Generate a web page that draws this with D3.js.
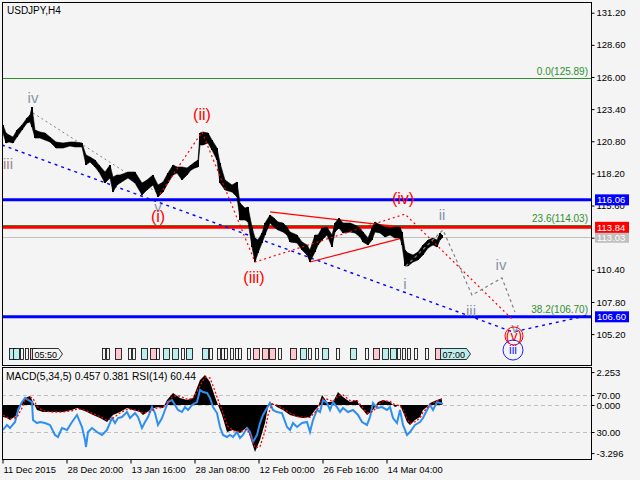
<html>
<head>
<meta charset="utf-8">
<style>
  body { margin: 0; background: #f4f4f4; font-family: "Liberation Sans", Arial, sans-serif; }
  svg { display: block; }
</style>
</head>
<body>
<svg id="chart" width="640" height="480"></svg>
<script src="https://cdn.jsdelivr.net/npm/d3@7/dist/d3.min.js"></script>
<script>
// ---- price (H4 bars, sampled), bar index from 11 Dec 2015 ----
var priceBars = [1,4,7,11,15,20,25,28,30,33,38,43,48,54,61,68,73,80,84,88,93,97,103,108,111,115,118,126,133,140,145,151,156,161,166,171,175,180,185,189,193,196,198,201,206,210,215,218,223,230,235,238,243,246,250,253,256,260,263,268,272,276,281,285,288,295,300,305,308,313,316,320,325,330,333,337,341,348,353,358,361,366,370,373,378,383,388,393,398,400,403,406,411,416,421,426,431,435,438,440];
var priceHigh = [122.12,121.47,121.31,121.14,121.71,122.12,122.68,122.92,123.57,121.71,121.55,121.47,121.14,120.74,120.66,120.74,120.74,120.66,119.69,119.53,119.28,118.88,118.31,118.88,117.91,118.07,118.07,118.31,118.31,117.42,117.67,118.07,117.26,117.50,118.23,118.88,118.72,118.72,118.64,118.88,119.12,119.28,121.47,121.55,121.47,120.90,120.25,119.04,117.67,117.26,117.50,115.80,115.40,115.48,113.86,112.97,112.81,113.38,114.19,114.83,114.59,114.27,114.19,113.86,113.46,113.22,112.65,112.41,112.00,113.22,113.22,113.78,113.86,113.22,114.19,114.59,114.19,114.19,114.02,113.78,113.46,112.97,113.78,114.27,114.02,113.86,113.78,113.86,113.86,113.46,112.00,111.76,111.60,111.84,112.41,112.81,112.97,112.81,113.38,113.22];
var priceLow = [121.47,120.66,120.74,120.66,121.14,121.71,122.28,122.36,121.95,121.06,121.06,120.90,120.74,120.25,120.25,120.42,120.34,120.34,118.88,119.12,118.72,118.31,117.42,117.83,116.69,117.26,117.42,117.83,117.42,116.45,116.86,117.26,116.29,116.69,117.42,118.07,118.23,117.67,118.07,118.47,118.64,118.72,120.50,120.50,120.66,120.09,119.28,117.42,116.86,116.69,116.29,114.43,114.43,114.27,112.25,111.03,111.76,112.57,113.22,114.19,113.86,113.62,113.46,113.22,112.65,112.57,112.00,111.60,111.03,111.84,112.41,112.81,113.22,112.25,113.46,113.78,113.38,113.46,113.38,113.06,112.65,112.41,112.81,113.46,113.38,113.06,113.22,112.97,112.97,112.41,110.71,110.71,111.03,111.19,111.60,112.16,112.41,112.25,112.81,112.97];
var lastPrice = 113.03;

// ---- axes ----
var priceTicks = [131.20,128.60,126.00,123.40,120.80,118.20,115.60,113.00,110.40,107.80,105.20];
var timeTickBars = [0,64,128,192,256,320,384];
var timeTickLabels = ["11 Dec 2015","28 Dec 20:00","13 Jan 16:00","28 Jan 08:00","12 Feb 00:00","26 Feb 16:00","14 Mar 04:00"];

// ---- horizontal levels ----
var fibLevels = [125.89, 114.03, 106.70];
var fibLabels = ["0.0(125.89)", "23.6(114.03)", "38.2(106.70)"];
var supportLevels = [116.06, 106.60];
var resistLevel = 113.84;

// ---- wave lines (bar index, price) ----
var minorLineBars = [31, 156];
var minorLinePrices = [123.09, 116.61];
var waveBars = [158, 200, 253, 403, 511];
var wavePrices = [116.53, 121.55, 111.03, 114.91, 106.34];
var channelBars = [0, 511, 588];
var channelPrices = [120.50, 105.37, 106.75];
var triUpperBars = [268, 400];
var triUpperPrices = [115.08, 113.86];
var triLowerBars = [308, 400];
var triLowerPrices = [111.03, 112.97];
var projBars = [404, 441, 470, 500, 513];
var projPrices = [110.71, 113.62, 108.36, 109.74, 106.98];

// ---- wave labels ----
var labelText = ["iv","iii","v","(i)","(ii)","(iii)","(iv)","ii","i","iii","iv","v","(v)","iii"];
var labelBars = [31, 6, 156, 156, 200, 252, 401, 440, 403, 469, 499, 513, 512, 511];
var labelPrices = [124.38, 119.04, 115.56, 114.75, 122.93, 109.74, 116.13, 114.91, 109.33, 107.07, 110.87, 105.77, 105.05, 103.91];
var labelDegree = ["minute","minuette","minute","minor","minor","minor","minor","minute","minute","minute","minute","minute","minorC","intermediate"];

// ---- calendar events ----
var eventBars = [7,11,18,23,28,100,104,113,126,130,139,148,154,161,170,179,184,200,207,215,219,222,228,233,236,245,251,260,267,276,288,298,306,313,320,334,348,363,371,380,388,395,400,405,412,423,433];
var eventKinds = ["c","c","n","n","p","n","n","p","n","n","c","p","n","c","c","n","c","c","n","n","n","n","n","n","n","n","p","p","p","n","p","c","n","n","c","n","c","n","p","c","c","n","n","n","n","n","p"];
var flagBars = [30, 438];
var flagText = ["05:50", "07:00"];
var flagKinds = ["n", "c"];

// ---- MACD(5,34,5) + RSI(14) ----
var macdBars = [1,5,8,15,20,23,28,31,35,41,51,61,70,75,80,85,91,98,105,111,118,125,131,138,141,148,155,161,165,171,178,185,191,198,203,208,213,216,220,225,231,238,245,250,253,258,263,266,270,275,281,288,295,301,308,313,316,320,325,331,336,341,348,355,358,361,365,371,376,381,388,393,398,401,405,408,413,418,421,425,428,435,440];
var macdValues = [-0.82,-0.90,-1.03,-0.68,0.21,0.48,0.62,0.21,-0.34,-0.48,-0.48,-0.48,-0.34,-0.21,-0.34,-0.48,-0.68,-0.89,-1.16,-0.68,-0.48,-0.21,-0.34,-0.48,-0.68,-0.34,-0.14,-0.21,0.34,0.82,0.48,0.34,0.48,1.71,2.05,1.58,0.55,0.00,-0.68,-1.85,-1.71,-1.92,-1.51,-2.60,-3.22,-2.40,-1.23,-0.14,0.14,-0.14,-0.34,-0.68,-0.82,-0.89,-0.82,-0.34,-0.14,0.68,0.21,0.21,0.89,0.55,0.21,0.34,-0.14,-0.34,-0.68,-0.34,0.21,0.34,0.21,-0.14,0.00,-0.48,-1.16,-1.37,-1.03,-0.82,-0.34,-0.14,0.14,0.34,0.457];
var signalValues = [-0.70,-0.85,-0.95,-0.85,-0.20,0.30,0.55,0.45,-0.10,-0.40,-0.48,-0.48,-0.40,-0.28,-0.30,-0.42,-0.60,-0.80,-1.05,-0.90,-0.55,-0.30,-0.30,-0.42,-0.58,-0.45,-0.20,-0.18,0.15,0.62,0.60,0.40,0.42,1.30,1.90,1.85,0.95,0.35,-0.35,-1.40,-1.75,-1.85,-1.65,-2.30,-2.95,-2.85,-1.80,-0.70,0.05,0.00,-0.25,-0.55,-0.78,-0.86,-0.85,-0.50,-0.25,0.40,0.40,0.22,0.65,0.68,0.30,0.30,0.05,-0.22,-0.55,-0.45,0.00,0.28,0.25,0.00,-0.05,-0.35,-0.95,-1.28,-1.15,-0.90,-0.50,-0.22,0.02,0.28,0.381];
var rsiBars = [1,5,8,13,16,20,23,26,30,31,35,38,43,48,53,56,60,65,70,75,80,83,84,86,90,95,100,105,110,113,116,120,125,128,133,136,140,143,146,150,153,156,160,163,166,170,173,176,180,183,186,190,195,198,201,205,208,211,215,218,221,225,228,231,235,238,241,245,248,251,255,258,261,265,268,271,275,280,285,288,291,295,300,305,308,311,315,318,321,325,328,331,335,338,341,346,351,356,360,365,368,371,375,380,385,388,391,395,398,401,405,408,413,418,421,425,428,431,435,438,441];
var rsiValues = [32.2,37.6,34.3,40.8,53.8,62.4,66.8,64.6,62.4,43.0,39.7,40.8,39.7,37.6,26.8,24.6,34.3,32.2,40.8,48.4,35.4,21.4,13.8,30.0,34.3,30.0,26.8,32.2,45.1,39.7,45.1,46.2,51.6,45.1,50.5,46.2,34.3,40.8,46.2,57.0,50.5,37.6,45.1,53.8,62.4,64.6,59.2,53.8,51.6,57.0,53.8,59.2,62.4,75.4,73.2,72.2,66.8,57.0,50.5,35.4,26.8,24.6,26.8,24.6,30.0,23.5,26.8,34.3,30.0,19.2,26.8,39.7,48.4,55.9,61.4,53.8,51.6,50.5,35.4,32.2,39.7,35.4,39.7,40.8,30.0,43.0,53.8,51.6,64.6,61.4,53.8,62.4,57.0,51.6,55.9,51.6,53.8,48.4,40.8,37.6,46.2,61.4,55.9,57.0,53.8,57.0,45.1,39.7,53.8,37.6,26.8,30.0,37.6,40.8,45.1,53.8,59.2,53.8,62.4,61.4,60.44];

var svg = d3.select("#chart");
var W = 591, mainTop = 2, mainBottom = 365, subTop = 367, subBottom = 459;
var axisFont = "Liberation Sans, Arial, sans-serif";

var x = d3.scaleLinear().domain([0, 589]).range([2, W]);
var y = d3.scaleLinear().domain([102.70, 132.066]).range([mainBottom, mainTop]);
var macdY = d3.scaleLinear().domain([-3.70, 2.60]).range([subBottom, subTop]);
var rsiY = d3.scaleLinear().domain([0, 100]).range([459.75, 367.25]);

// MT4 prints a plain hyphen for negatives
function fmt(spec) {
  var f = d3.format(spec);
  return function(d) { return f(d).replace("\u2212", "-"); };
}

svg.append("rect").attr("width", 640).attr("height", 480).attr("fill", "#f4f4f4");

var defs = svg.append("defs");
defs.append("clipPath").attr("id", "clipMain").append("rect")
  .attr("x", 2).attr("y", mainTop).attr("width", W - 2).attr("height", mainBottom - mainTop);
defs.append("clipPath").attr("id", "clipSub").append("rect")
  .attr("x", 2).attr("y", subTop).attr("width", W - 2).attr("height", subBottom - subTop);

var main = svg.append("g").attr("clip-path", "url(#clipMain)");

function pts(bars, prices) {
  return bars.map(function(b, i) { return [x(b), y(prices[i])]; });
}
var line = d3.line();

// horizontal levels
fibLevels.forEach(function(v) {
  main.append("line").attr("x1", 2).attr("x2", W)
    .attr("y1", Math.round(y(v)) + 0.5).attr("y2", Math.round(y(v)) + 0.5)
    .attr("stroke", "#2f8f2f").attr("stroke-width", 1);
});
main.append("line").attr("x1", 2).attr("x2", W)
  .attr("y1", Math.round(y(lastPrice)) + 0.5).attr("y2", Math.round(y(lastPrice)) + 0.5)
  .attr("stroke", "#c0c0c0").attr("stroke-width", 1);
supportLevels.forEach(function(v) {
  main.append("line").attr("x1", 2).attr("x2", W)
    .attr("y1", y(v)).attr("y2", y(v))
    .attr("stroke", "#0000ff").attr("stroke-width", 3);
});
main.append("line").attr("x1", 2).attr("x2", W)
  .attr("y1", y(resistLevel)).attr("y2", y(resistLevel))
  .attr("stroke", "#ff0000").attr("stroke-width", 3);

fibLevels.forEach(function(v, i) {
  main.append("text").attr("x", W - 3).attr("y", y(v) - 3)
    .attr("text-anchor", "end").attr("font-size", 10).attr("fill", "#2f8f2f")
    .text(fibLabels[i]);
});

// wave lines
main.append("path").attr("d", line(pts(channelBars, channelPrices)))
  .attr("fill", "none").attr("stroke", "#0000ff").attr("stroke-width", 1.4).attr("stroke-dasharray", "3,4");
main.append("path").attr("d", line(pts(minorLineBars, minorLinePrices)))
  .attr("fill", "none").attr("stroke", "#808080").attr("stroke-width", 1).attr("stroke-dasharray", "2,3");
main.append("path").attr("d", line(pts(triUpperBars, triUpperPrices)))
  .attr("fill", "none").attr("stroke", "#ff0000").attr("stroke-width", 1.2);
main.append("path").attr("d", line(pts(triLowerBars, triLowerPrices)))
  .attr("fill", "none").attr("stroke", "#ff0000").attr("stroke-width", 1.2);

// price bars
var priceData = priceBars.map(function(b, i) { return {b: b, high: priceHigh[i], low: priceLow[i]}; });
var area = d3.area()
  .x(function(d) { return x(d.b); })
  .y0(function(d) { return y(d.low); })
  .y1(function(d) { return y(d.high); });
main.append("path").datum(priceData).attr("d", area)
  .attr("fill", "#000").attr("stroke", "#000").attr("stroke-width", 0.6);
main.append("g").selectAll("line").data(priceData).join("line")
  .attr("x1", function(d) { return x(d.b); }).attr("x2", function(d) { return x(d.b); })
  .attr("y1", function(d) { return y(d.high); }).attr("y2", function(d) { return y(d.low); })
  .attr("stroke", "#000").attr("stroke-width", 2);

main.append("path").attr("d", line(pts(waveBars, wavePrices)))
  .attr("fill", "none").attr("stroke", "#ff0000").attr("stroke-width", 1.2).attr("stroke-dasharray", "2,3");
main.append("path").attr("d", line(pts(projBars, projPrices)))
  .attr("fill", "none").attr("stroke", "#808080").attr("stroke-width", 1.2).attr("stroke-dasharray", "3,3");

// wave labels
var degreeColor = {minute: "#8794a8", minuette: "#a08888", minor: "#ff0000", minorC: "#ff0000", intermediate: "#2020ff"};
var degreeSize = {minute: 15, minuette: 15, minor: 16, minorC: 14, intermediate: 12};
labelText.forEach(function(t, i) {
  var deg = labelDegree[i];
  var cx = x(labelBars[i]), cy = y(labelPrices[i]);
  if (deg == "minorC" || deg == "intermediate") {
    main.append("circle").attr("cx", cx).attr("cy", cy).attr("r", deg == "minorC" ? 9 : 10)
      .attr("fill", "none").attr("stroke", degreeColor[deg]).attr("stroke-width", 1);
  }
  main.append("text").attr("x", cx).attr("y", cy)
    .attr("text-anchor", "middle").attr("dominant-baseline", "central")
    .attr("font-size", degreeSize[deg]).attr("fill", degreeColor[deg])
    .text(t);
});

// calendar events row
var eventFill = {c: "#bdeeee", p: "#ffc6d0", n: "#f4f4f4"};
var ev = main.append("g");
eventBars.forEach(function(b, i) {
  var w = eventKinds[i] == "n" ? 3 : 6;
  ev.append("rect").attr("x", Math.round(x(b)) + 0.5).attr("y", 348.5)
    .attr("width", w).attr("height", 11)
    .attr("fill", eventFill[eventKinds[i]]).attr("stroke", "#000").attr("stroke-width", 0.8);
});
flagBars.forEach(function(b, i) {
  var x0 = Math.round(x(b)) + 0.5;
  ev.append("path")
    .attr("d", "M" + x0 + ",348.5 h26 l4,5.5 l-4,5.5 h-26 z")
    .attr("fill", eventFill[flagKinds[i]]).attr("stroke", "#000").attr("stroke-width", 0.8);
  ev.append("text").attr("x", x0 + 2).attr("y", 357.5).attr("font-size", 9).attr("fill", "#000")
    .text(flagText[i]);
});

// frames
svg.append("rect").attr("x", 2.5).attr("y", 2.5).attr("width", W - 2).attr("height", mainBottom - mainTop)
  .attr("fill", "none").attr("stroke", "#000");
svg.append("text").attr("x", 7).attr("y", 14).attr("font-size", 10).attr("fill", "#000").text("USDJPY,H4");

// price axis
var pAxis = svg.append("g").attr("transform", "translate(" + (W + 0.5) + ",0)")
  .call(d3.axisRight(y).tickValues(priceTicks).tickSize(3).tickPadding(2).tickFormat(fmt(".2f")));
pAxis.select(".domain").remove();
pAxis.attr("font-family", axisFont).attr("font-size", 9.5);

// right price boxes
var boxes = [[lastPrice, "#c0c0c0"], [resistLevel, "#ff0000"], [supportLevels[0], "#0000ff"], [supportLevels[1], "#0000ff"]];
boxes.forEach(function(bx) {
  var cy = y(bx[0]);
  svg.append("rect").attr("x", 595).attr("y", cy - 5.5).attr("width", 34).attr("height", 11).attr("fill", bx[1]);
  svg.append("text").attr("x", 597).attr("y", cy).attr("dominant-baseline", "central")
    .attr("font-size", 9.5).attr("fill", "#fff").text(bx[0].toFixed(2));
});

// ---- sub window ----
var sub = svg.append("g").attr("clip-path", "url(#clipSub)");
[rsiY(70), macdY(0), rsiY(30)].forEach(function(v) {
  sub.append("line").attr("x1", 2).attr("x2", W).attr("y1", Math.round(v) + 0.5).attr("y2", Math.round(v) + 0.5)
    .attr("stroke", "#c0c0c0").attr("stroke-dasharray", "4,3");
});
var macdData = macdBars.map(function(b, i) { return {b: b, m: macdValues[i], s: signalValues[i]}; });
sub.append("path").datum(macdData)
  .attr("d", d3.area().x(function(d) { return x(d.b); }).y0(macdY(0)).y1(function(d) { return macdY(d.m); }))
  .attr("fill", "#000");
var rsiData = rsiBars.map(function(b, i) { return [x(b), rsiY(rsiValues[i])]; });
sub.append("path").attr("d", line(rsiData))
  .attr("fill", "none").attr("stroke", "#2f8ff0").attr("stroke-width", 2);
sub.append("path").datum(macdData)
  .attr("d", d3.line().x(function(d) { return x(d.b); }).y(function(d) { return macdY(d.s); }))
  .attr("fill", "none").attr("stroke", "#ff0000").attr("stroke-width", 1.3).attr("stroke-dasharray", "2,2");

svg.append("rect").attr("x", 2.5).attr("y", subTop + 0.5).attr("width", W - 2).attr("height", subBottom - subTop)
  .attr("fill", "none").attr("stroke", "#000");
svg.append("text").attr("x", 6).attr("y", 380).attr("font-size", 10.3).attr("fill", "#000")
  .text("MACD(5,34,5) 0.457 0.381 RSI(14) 60.44");

var mAxis = svg.append("g").attr("transform", "translate(" + (W + 0.5) + ",0)")
  .call(d3.axisRight(macdY).tickValues([2.253, 0, -3.296]).tickSize(3).tickPadding(2).tickFormat(fmt(".3f")));
mAxis.select(".domain").remove();
mAxis.attr("font-family", axisFont).attr("font-size", 9.5);
var rAxis = svg.append("g").attr("transform", "translate(" + (W + 0.5) + ",0)")
  .call(d3.axisRight(rsiY).tickValues([70, 30]).tickSize(3).tickPadding(2).tickFormat(fmt(".2f")));
rAxis.select(".domain").remove();
rAxis.attr("font-family", axisFont).attr("font-size", 9.5);

// time axis
var tAxis = svg.append("g").attr("transform", "translate(0," + (subBottom + 0.5) + ")")
  .call(d3.axisBottom(x).tickValues(timeTickBars).tickSize(4).tickPadding(3)
    .tickFormat(function(d, i) { return timeTickLabels[i]; }));
tAxis.select(".domain").remove();
tAxis.attr("font-family", axisFont).attr("font-size", 9.4);
tAxis.selectAll("text").attr("text-anchor", "start").attr("dx", 1);
tAxis.selectAll(".tick line").attr("transform", "translate(0.5,0)");
</script>
</body>
</html>
